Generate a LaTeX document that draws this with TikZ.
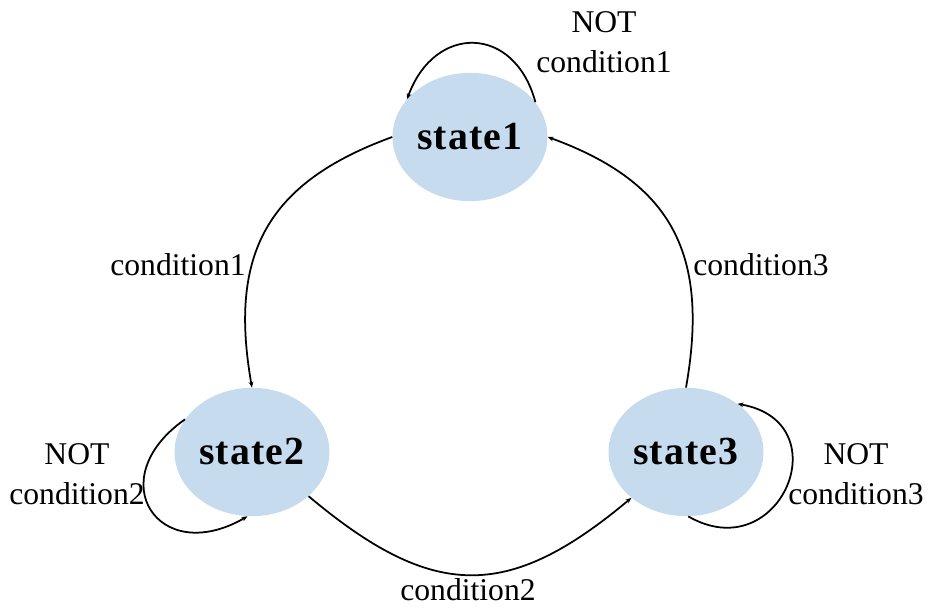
\documentclass[tikz,border=0pt]{standalone}
\usepackage{fontspec}
\setmainfont{Liberation Serif}
\newfontfamily\statefont[LetterSpace=3]{Liberation Serif}
\usetikzlibrary{shapes.geometric,arrows.meta}
\definecolor{statefill}{RGB}{198,220,238}

\begin{document}
\begin{tikzpicture}[x=0.03cm,y=0.03cm,
		state/.style={ellipse,fill=statefill,minimum width=4.65cm,minimum height=3.85cm,inner sep=0pt,
			font=\statefont\bfseries\fontsize{34}{40}\selectfont},
		lbl/.style={align=center,font=\fontsize{27}{34}\selectfont},
		trans/.style={line width=1.5pt,-{Stealth[length=5pt,width=4pt]}}]
		\useasboundingbox (0,0) rectangle (926,610);

		\node[state] (state1) at (470,473) {state1};
		\node[state] (state2) at (252,158) {state2};
		\node[state] (state3) at (686,158) {state3};

		% self loops
		\draw[trans] (state1.28) to[out=105,in=70,looseness=1.6] (state1.149);
		\draw[trans] (state2.154) to[out=215,in=210,looseness=2.3] (state2.266);
		\draw[trans] (state3.272) to[out=330,in=350,looseness=2.2] (state3.43);

		% transitions round the ring
		\draw[trans] (state1.west) to[out=200,in=100,looseness=1.2] (state2.north);
		\draw[trans] (state2.322) to[out=320,in=220,looseness=1.28] (state3.220);
		\draw[trans] (state3.north) to[out=80,in=340,looseness=1.2] (state1.east);

		\node[lbl] (cond1) at (178,345) {condition1};
		\node[lbl] (cond2) at (468,20) {condition2};
		\node[lbl] (cond3) at (761,345) {condition3};
		\node[lbl] (notcond1) at (604,568) {NOT\\condition1};
		\node[lbl] (notcond2) at (77,136) {NOT\\condition2};
		\node[lbl] (notcond3) at (856,136) {NOT\\condition3};
	\end{tikzpicture}
\end{document}
